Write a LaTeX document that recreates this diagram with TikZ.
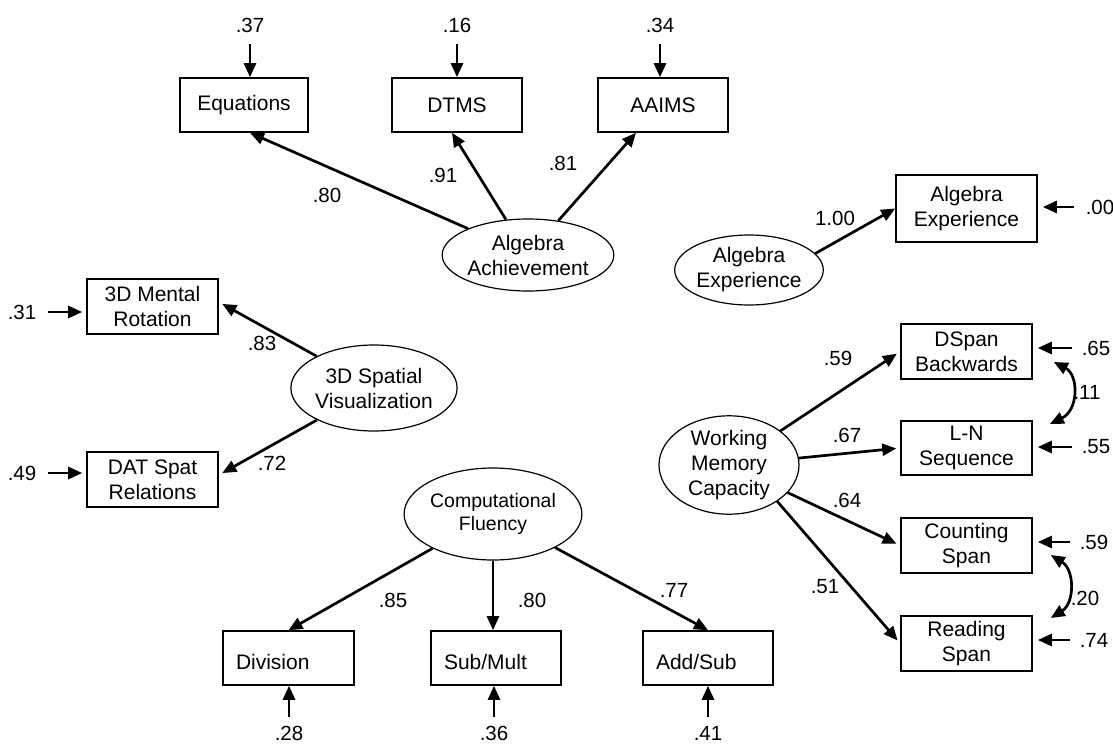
\documentclass[tikz,border=0pt]{standalone}
\usepackage{fontspec}
\setmainfont{Liberation Sans}
\usetikzlibrary{arrows.meta,shapes.geometric}

\begin{document}
\begin{tikzpicture}[x=1pt,y=-1pt,
  obs/.style={draw, line width=1.6pt, rectangle, inner sep=0pt, align=center,
    font=\fontsize{21}{25}\selectfont},
  obsl/.style={obs, align=left, inner xsep=13pt, text height=23pt, text depth=0pt,
    minimum height=54pt},
  lat/.style={draw, line width=1.2pt, ellipse, inner sep=0pt, align=center,
    font=\fontsize{21}{25}\selectfont},
  num/.style={inner sep=2pt, font=\fontsize{20.5}{24}\selectfont},
  tip/.style={-{Triangle[length=14pt,width=12pt]}},
  load/.style={line width=2.7pt, tip, shorten >=0pt},
  err/.style={line width=2.7pt, tip, shorten <=10pt},
  cov/.style={line width=2.7pt, {Triangle[length=14pt,width=12pt]}-{Triangle[length=14pt,width=12pt]}},
]
\useasboundingbox (0,0) rectangle (1113,747);

% ---------- indicators ----------
\node[obs, minimum width=128pt, minimum height=54pt] (eq)    at (244,105)   {Equations};
\node[obs, minimum width=130pt, minimum height=54pt] (dtms)  at (457,105)   {DTMS};
\node[obs, minimum width=130pt, minimum height=54pt] (aaims) at (663,105)   {AAIMS};
\node[obs, minimum width=141pt, minimum height=67pt] (aeb)   at (966.5,208.5) {Algebra\\Experience};
\node[obs, minimum width=131pt, minimum height=55pt] (mr)    at (152.5,306.5) {3D Mental\\Rotation};
\node[obs, minimum width=131pt, minimum height=55pt] (dat)   at (152.5,479.5) {DAT Spat\\Relations};
\node[obs, minimum width=131pt, minimum height=55pt] (ds)    at (966.5,351.5) {DSpan\\Backwards};
\node[obs, minimum width=131pt, minimum height=54pt] (ln)    at (966.5,448)   {L-N\\Sequence};
\node[obs, minimum width=131pt, minimum height=55pt] (cs)    at (966.5,545.5) {Counting\\Span};
\node[obs, minimum width=131pt, minimum height=55pt] (rs)    at (966.5,643.5) {Reading\\Span};
\node[obsl, text width=105pt] (div)  at (288.5,658) {Division};
\node[obsl, text width=104pt] (sm)   at (496,658)   {Sub/Mult};
\node[obsl, text width=104pt] (adds) at (708,658)   {Add/Sub};

% ---------- latent factors ----------
\node[lat, minimum width=140pt, minimum height=72pt] (aa) at (528,255) {Algebra\\Achievement};
\node[lat, minimum width=142pt, minimum height=70pt] (ae) at (749,270) {Algebra\\Experience};
\node[lat, minimum width=142pt, minimum height=86pt] (sv) at (374,388) {3D Spatial\\Visualization};
\node[lat, minimum width=144pt, minimum height=92pt, font=\fontsize{19.5}{23}\selectfont] (cf) at (493,514) {Computational\\Fluency};
\node[lat, minimum width=140pt, minimum height=86pt] (wm) at (729,465) {Working\\Memory\\Capacity};

% ---------- error variances ----------
\node[num] (e37) at (250,25)   {.37};
\node[num] (e16) at (457,25)   {.16};
\node[num] (e34) at (660,25)   {.34};
\node[num] (e00) at (1100,207) {.00};
\node[num] (e31) at (22,312)   {.31};
\node[num] (e49) at (22,473)   {.49};
\node[num] (e65) at (1096,348) {.65};
\node[num] (e55) at (1096,447) {.55};
\node[num] (e59) at (1094,542) {.59};
\node[num] (e74) at (1094,640) {.74};
\node[num] (e28) at (289,733)  {.28};
\node[num] (e36) at (494,733)  {.36};
\node[num] (e41) at (708,733)  {.41};

\draw[err] (e37.south) -- ([xshift=6pt]eq.north);
\draw[err] (e16.south) -- (dtms.north);
\draw[err] (e34.south) -- ([xshift=-3pt]aaims.north);
\draw[err, shorten <=10pt, shorten >=5pt] (e00.west) -- (aeb.east |- e00.west);
\draw[err, shorten <=10pt, shorten >=4pt] (e31.east) -- (mr.west |- e31.east);
\draw[err, shorten <=10pt, shorten >=4pt] (e49.east) -- (dat.west |- e49.east);
\draw[err, shorten <=8pt, shorten >=5pt] (e65.west) -- (ds.east |- e65.west);
\draw[err, shorten <=8pt, shorten >=5pt] (e55.west) -- (ln.east |- e55.west);
\draw[err, shorten <=8pt, shorten >=5pt] (e59.west) -- (cs.east |- e59.west);
\draw[err, shorten <=8pt, shorten >=5pt] (e74.west) -- (rs.east |- e74.west);
\draw[err, shorten <=7pt] (e28.north) -- (e28.north |- div.south);
\draw[err, shorten <=7pt] (e36.north) -- (e36.north |- sm.south);
\draw[err, shorten <=7pt] (e41.north) -- (e41.north |- adds.south);

% ---------- loadings ----------
\draw[load] (aa) -- ([xshift=6pt]eq.south);
\draw[load] (aa) -- ([xshift=-5pt]dtms.south);
\draw[load] (aa) -- ([xshift=-27pt]aaims.south);
\draw[load] (ae.14) -- (aeb.west);
\draw[load, shorten >=4pt] (sv) -- ([yshift=4.5pt]mr.east);
\draw[load, shorten >=4pt] (sv) -- ([yshift=4.5pt]dat.east);
\draw[load, shorten >=4pt] (wm) -- (ds.west);
\draw[load, shorten >=4pt] (wm) -- (ln.west);
\draw[load, shorten >=4pt] (wm) -- (cs.west);
\draw[load, shorten >=4pt] (wm.-37) -- (rs.west);
\draw[load] (cf) -- (div.north);
\draw[load] (cf.south) -- (cf.south |- sm.north);
\draw[load] (cf) -- (adds.north);

\node[num] at (327,195) {.80};
\node[num] at (443,175) {.91};
\node[num] at (563,163) {.81};
\node[num] at (835,218) {1.00};
\node[num] at (262,343) {.83};
\node[num] at (272,463) {.72};
\node[num] at (838,358) {.59};
\node[num] at (847,435) {.67};
\node[num] at (847,500) {.64};
\node[num] at (825,587) {.51};
\node[num] at (393,600) {.85};
\node[num] at (532,600) {.80};
\node[num] at (674,590) {.77};

% ---------- correlated residuals ----------
\draw[cov] ([shift={(21,10.5)}]ds.east) .. controls +(25,13) and +(29,-14) .. ([shift={(17,-24)}]ln.east);
\draw[cov] ([shift={(18,9.5)}]cs.east) .. controls +(24,15) and +(24,-15) .. ([shift={(18,-25.5)}]rs.east);
\node[num] at (1087,392) {.11};
\node[num] at (1085,598) {.20};

\end{tikzpicture}
\end{document}
